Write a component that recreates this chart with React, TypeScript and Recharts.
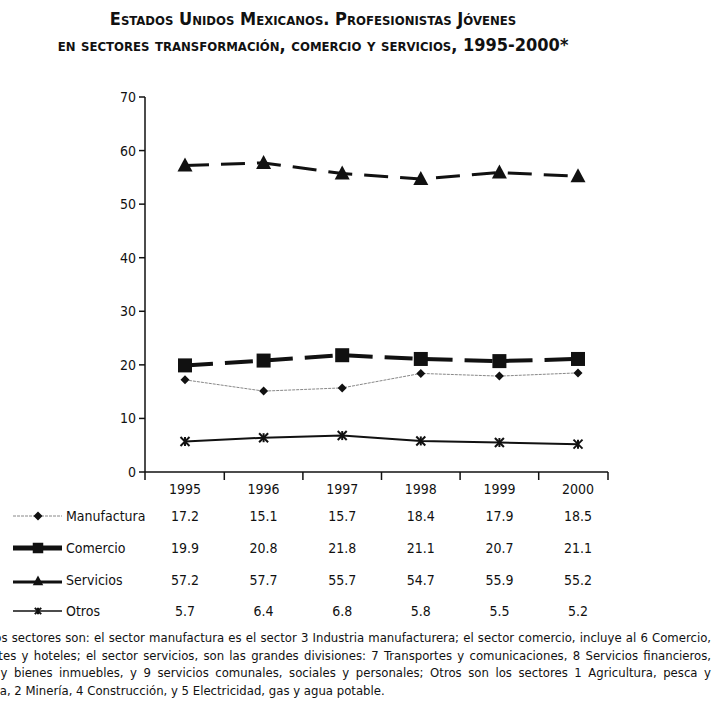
import React from "react";
import { LineChart, Line, XAxis, YAxis } from "recharts";

const years = ["1995", "1996", "1997", "1998", "1999", "2000"];
const manufactura = [17.2, 15.1, 15.7, 18.4, 17.9, 18.5];
const comercio = [19.9, 20.8, 21.8, 21.1, 20.7, 21.1];
const servicios = [57.2, 57.7, 55.7, 54.7, 55.9, 55.2];
const otros = [5.7, 6.4, 6.8, 5.8, 5.5, 5.2];
const yTicks = [0, 10, 20, 30, 40, 50, 60, 70];

const rows = [
  { key: "manufactura", name: "Manufactura", values: manufactura },
  { key: "comercio", name: "Comercio", values: comercio },
  { key: "servicios", name: "Servicios", values: servicios },
  { key: "otros", name: "Otros", values: otros },
];

const data = years.map((year, i) => ({
  year,
  manufactura: manufactura[i],
  comercio: comercio[i],
  servicios: servicios[i],
  otros: otros[i],
}));

const FONT = "'DejaVu Sans Condensed', 'DejaVu Sans', sans-serif";
const ROW_Y = [41, 73, 105, 136];

// ── marcadores ────────────────────────────────────────────────────────────────

function Diamond({ cx, cy, s = 1 }: any) {
  if (cx == null) return null;
  const r = 4.5 * s;
  return <path d={`M${cx},${cy - r}L${cx + r},${cy}L${cx},${cy + r}L${cx - r},${cy}Z`} fill="#111" />;
}

function Square({ cx, cy, s = 1 }: any) {
  if (cx == null) return null;
  const h = 7 * s;
  return <rect x={cx - h} y={cy - h} width={2 * h} height={2 * h} fill="#111" />;
}

function Triangle({ cx, cy, s = 1 }: any) {
  if (cx == null) return null;
  return <path d={`M${cx},${cy - 8 * s}L${cx + 7.5 * s},${cy + 6 * s}L${cx - 7.5 * s},${cy + 6 * s}Z`} fill="#111" />;
}

function Star({ cx, cy, s = 1 }: any) {
  if (cx == null) return null;
  const r = 4.5 * s;
  return (
    <g stroke="#111" strokeWidth={2}>
      <line x1={cx - r} y1={cy - r} x2={cx + r} y2={cy + r} />
      <line x1={cx - r} y1={cy + r} x2={cx + r} y2={cy - r} />
      <line x1={cx} y1={cy - r} x2={cx} y2={cy + r} />
    </g>
  );
}

// ── eje x con el cuadro de valores debajo ─────────────────────────────────────

function XTick(props: any) {
  const { x, y, payload, index } = props;
  const half = index === years.length - 1 ? 30 : 39.3;
  return (
    <g>
      <line x1={x + half} y1={y - 8} x2={x + half} y2={y} stroke="#111" strokeWidth={1.5} />
      {index === 0 && <line x1={x - 40} y1={y - 8} x2={x - 40} y2={y} stroke="#111" strokeWidth={1.5} />}
      <text x={x} y={y + 14} textAnchor="middle" fontSize={14} fontFamily={FONT} fill="#111">
        {payload.value}
      </text>
      {rows.map((r, k) => (
        <text key={r.key} x={x} y={y + ROW_Y[k]} textAnchor="middle" fontSize={14} fontFamily={FONT} fill="#111">
          {r.values[index].toFixed(1)}
        </text>
      ))}
    </g>
  );
}

function LegendSample({ kind }: { kind: string }) {
  return (
    <svg width={49} height={16} style={{ display: "block" }}>
      {kind === "manufactura" && (
        <>
          <line x1={0} y1={8} x2={49} y2={8} stroke="#888" strokeWidth={1} strokeDasharray="3 1" />
          <Diamond cx={25} cy={8} s={1} />
        </>
      )}
      {kind === "comercio" && (
        <>
          <line x1={0} y1={8} x2={49} y2={8} stroke="#111" strokeWidth={5} />
          <Square cx={25} cy={8} s={0.75} />
        </>
      )}
      {kind === "servicios" && (
        <>
          <line x1={0} y1={10} x2={49} y2={10} stroke="#111" strokeWidth={3} />
          <Triangle cx={25} cy={9} s={0.7} />
        </>
      )}
      {kind === "otros" && (
        <>
          <line x1={0} y1={8} x2={49} y2={8} stroke="#111" strokeWidth={1.5} />
          <Star cx={25} cy={8} s={0.7} />
        </>
      )}
    </svg>
  );
}

const notes = [
  { left: -22, text: "* Los sectores son: el sector manufactura es el sector 3 Industria manufacturera; el sector comercio, incluye al 6 Comercio,", just: true },
  { left: -58, text: "restaurantes y hoteles; el sector servicios, son las grandes divisiones: 7 Transportes y comunicaciones, 8 Servicios financieros,", just: true },
  { left: -52, text: "seguros y bienes inmuebles, y 9 servicios comunales, sociales y personales; Otros son los sectores 1 Agricultura, pesca y", just: true },
  { left: -20, text: "caza, 2 Minería, 4 Construcción, y 5 Electricidad, gas y agua potable.", just: false },
];

export default function App() {
  return (
    <div style={{ position: "absolute", left: 0, top: 0, width: 714, height: 723, overflow: "hidden", background: "#fff", fontFamily: FONT, color: "#111" }}>
      <div style={{ position: "absolute", left: 0, width: 626, top: 6, textAlign: "center", fontWeight: 700, fontVariant: "small-caps", fontSize: 18, lineHeight: "26px" }}>
        <div>Estados Unidos Mexicanos. Profesionistas Jóvenes</div>
        <div>en sectores transformación, comercio y servicios, 1995-2000*</div>
      </div>

      <div style={{ position: "absolute", left: 0, top: 80 }}>
        <LineChart width={640} height={542} data={data} margin={{ top: 17, right: 32, left: 105, bottom: 0 }}>
          <XAxis
            dataKey="year"
            height={150}
            padding={{ left: 40, right: 30 }}
            axisLine={{ stroke: "#111", strokeWidth: 1.5 }}
            tickLine={false}
            tickSize={8}
            tickMargin={0}
            interval={0}
            tick={<XTick />}
          />
          <YAxis
            width={40}
            domain={[0, 70]}
            ticks={yTicks}
            interval={0}
            axisLine={{ stroke: "#111", strokeWidth: 1.5 }}
            tickLine={{ stroke: "#111", strokeWidth: 1.5 }}
            tickSize={6}
            tickMargin={3}
            tick={{ fontSize: 14, fontFamily: FONT, fill: "#111" }}
          />
          <Line dataKey="manufactura" stroke="#888" strokeWidth={1} strokeDasharray="3 1"
            dot={<Diamond />} isAnimationActive={false} />
          <Line dataKey="otros" stroke="#111" strokeWidth={2}
            dot={<Star />} isAnimationActive={false} />
          <Line dataKey="comercio" stroke="#111" strokeWidth={4} strokeDasharray="28 12"
            dot={<Square />} isAnimationActive={false} />
          <Line dataKey="servicios" stroke="#111" strokeWidth={3} strokeDasharray="24 12"
            dot={<Triangle />} isAnimationActive={false} />
        </LineChart>
      </div>

      {rows.map((r, k) => (
        <div key={r.key} style={{ position: "absolute", left: 13, top: 508 + [0, 32, 64, 95][k], display: "flex", alignItems: "center", gap: 4, fontSize: 14, height: 16 }}>
          <LegendSample kind={r.key} />
          <span>{r.name}</span>
        </div>
      ))}

      {notes.map((n, k) => (
        <div key={k} style={{
          position: "absolute", left: n.left, right: n.just ? 3 : undefined, top: 629 + k * 17.5,
          fontSize: 13, lineHeight: "17px", whiteSpace: "nowrap",
          textAlign: n.just ? "justify" : "left", textAlignLast: n.just ? "justify" : "auto",
        }}>
          {n.text}
        </div>
      ))}
    </div>
  );
}
